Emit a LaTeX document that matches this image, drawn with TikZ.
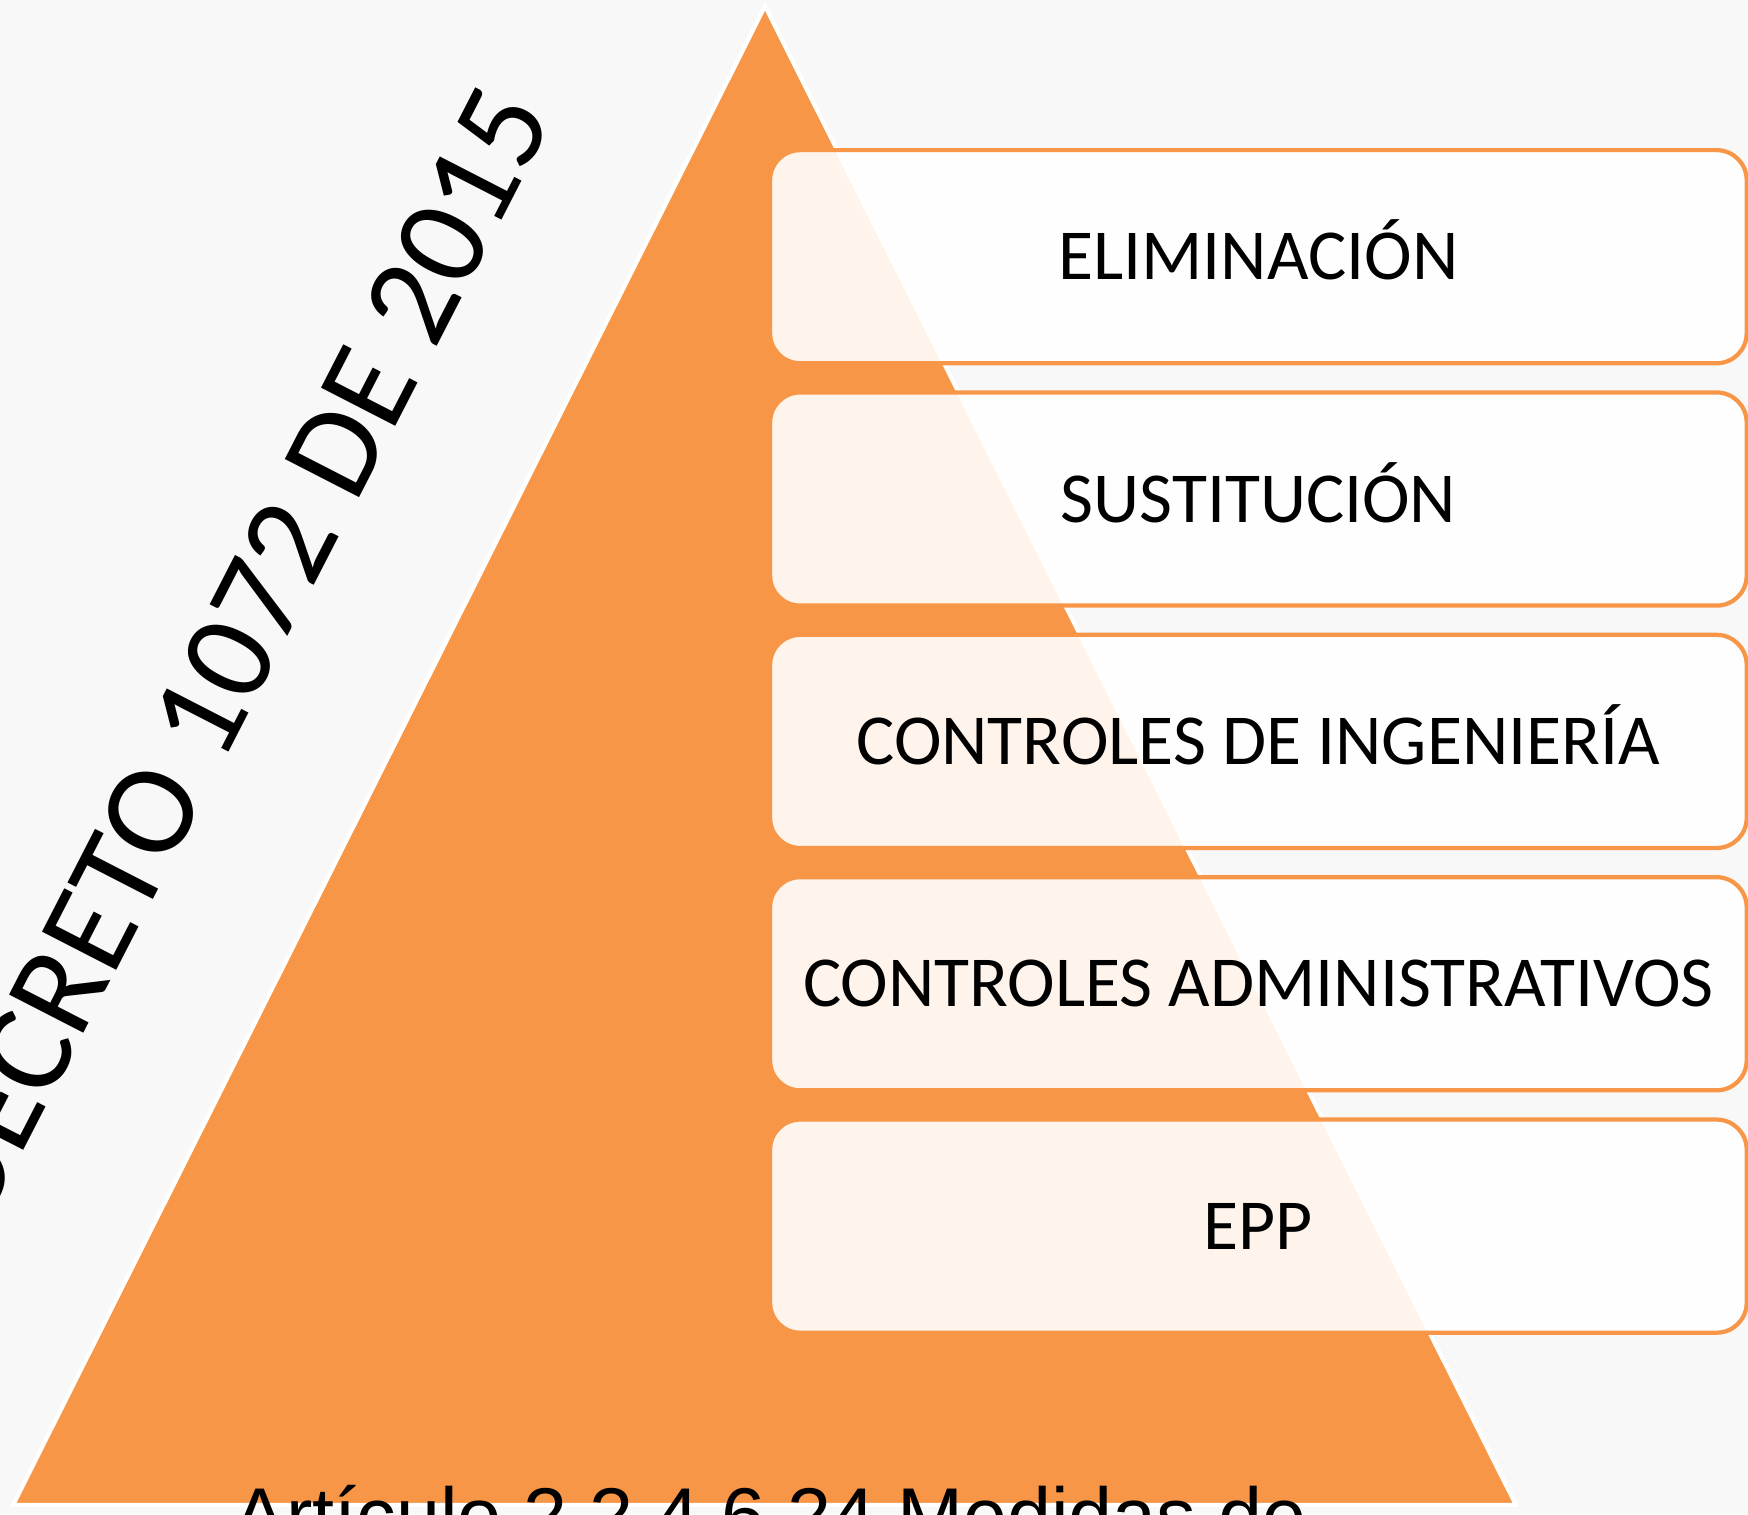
\documentclass[tikz,border=0pt]{standalone}
\usepackage{fontspec}
\setmainfont{Carlito}
\newfontfamily\arialFont{Liberation Sans}
\usetikzlibrary{positioning}
\definecolor{pyrOrange}{HTML}{F79646}
\definecolor{bgGray}{HTML}{F8F8F8}

\begin{document}
\begin{tikzpicture}[x=0.01cm, y=-0.01cm, inner sep=0.0pt, align=center,
    ctrlBox/.style={draw=pyrOrange, line width=1.2pt, fill=white, fill opacity=0.9, text opacity=1, rounded corners=0.3cm, minimum width=\boxWidth cm, minimum height=\boxHeight cm, text height=0.46cm, text depth=0pt, font=\fontsize{20.4}{24}\selectfont}]
    \pgfmathsetmacro{\boxWidth}{9.76}
    \pgfmathsetmacro{\boxHeight}{2.13}
    \pgfmathsetmacro{\boxGap}{0.25}

    \useasboundingbox (0,0) rectangle (1748,1514);
    \clip (0,0) rectangle (1748,1514);
    \fill [bgGray] (0,0) rectangle (1748,1514);

    % pyramid
    \coordinate (apex) at (765,6);
    \coordinate (base_l) at (13,1505);
    \coordinate (base_r) at (1516,1505);
    \filldraw [fill=pyrOrange, draw=white, line width=1.2pt] (apex) -- (base_l) -- (base_r) -- cycle;

    \node (decreto) [font=\fontsize{37}{42}\selectfont, rotate=62.8] at (232,654) {DECRETO 1072 DE 2015};

    % control levels
    \node (elim) [ctrlBox, anchor=north west] at (768,148) {ELIMINACIÓN};
    \node (sust) [ctrlBox, below=\boxGap cm of elim] {SUSTITUCIÓN};
    \node (ing) [ctrlBox, below=\boxGap cm of sust] {CONTROLES DE INGENIERÍA};
    \node (admin) [ctrlBox, below=\boxGap cm of ing] {CONTROLES ADMINISTRATIVOS};
    \node (epp) [ctrlBox, below=\boxGap cm of admin] {EPP};

    \node (articulo) [font=\arialFont\fontsize{22.5}{27}\selectfont, anchor=base] at (770,1543) {Artículo 2.2.4.6.24 Medidas de};
\end{tikzpicture}
\end{document}
